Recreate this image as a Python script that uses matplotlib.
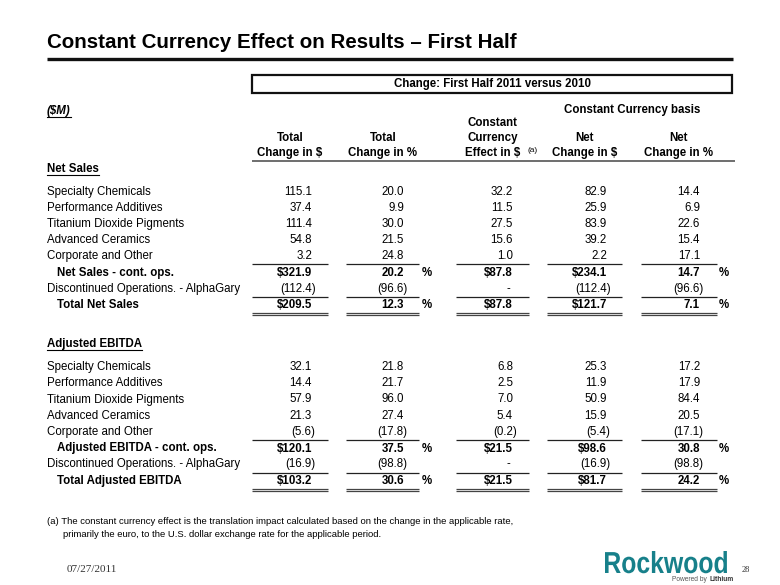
import matplotlib
matplotlib.use("Agg")
import matplotlib.pyplot as plt
from matplotlib.textpath import TextPath
from matplotlib.font_manager import FontProperties
from matplotlib.patches import PathPatch
from matplotlib.transforms import Affine2D

# segment rows
segments = ["Specialty Chemicals", "Performance Additives", "Titanium Dioxide Pigments",
            "Advanced Ceramics", "Corporate and Other"]

# Net sales columns: total $, total %, currency effect $, net $, net %
sales_total_usd = [115.1, 37.4, 111.4, 54.8, 3.2]
sales_total_pct = [20.0, 9.9, 30.0, 21.5, 24.8]
sales_fx_usd = [32.2, 11.5, 27.5, 15.6, 1.0]
sales_net_usd = [82.9, 25.9, 83.9, 39.2, 2.2]
sales_net_pct = [14.4, 6.9, 22.6, 15.4, 17.1]
sales_cont = [321.9, 20.2, 87.8, 234.1, 14.7]
sales_disc = [-112.4, -96.6, None, -112.4, -96.6]
sales_all = [209.5, 12.3, 87.8, 121.7, 7.1]

# Adjusted EBITDA columns
ebitda_total_usd = [32.1, 14.4, 57.9, 21.3, -5.6]
ebitda_total_pct = [21.8, 21.7, 96.0, 27.4, -17.8]
ebitda_fx_usd = [6.8, 2.5, 7.0, 5.4, -0.2]
ebitda_net_usd = [25.3, 11.9, 50.9, 15.9, -5.4]
ebitda_net_pct = [17.2, 17.9, 84.4, 20.5, -17.1]
ebitda_cont = [120.1, 37.5, 21.5, 98.6, 30.8]
ebitda_disc = [-16.9, -98.8, None, -16.9, -98.8]
ebitda_all = [103.2, 30.6, 21.5, 81.7, 24.2]

col_headers = [["", "Total", "Change in $"],
               ["", "Total", "Change in %"],
               ["Constant", "Currency", "Effect in $"],
               ["", "Net", "Change in $"],
               ["", "Net", "Change in %"]]
is_pct = [False, True, False, False, True]

# layout (pixels)
col_right = [312, 404, 513, 607, 700]
col_center = [290, 383, 493, 585, 678]
col_line = [(252, 328), (346, 419), (456, 529), (547, 622), (641, 717)]
pct_x = [None, 422, None, None, 719]

FONT = "Liberation Sans"
FS = 8.3

fig = plt.figure(figsize=(7.8, 5.85), dpi=100)
ax = fig.add_axes([0, 0, 1, 1])
ax.set_xlim(0, 780)
ax.set_ylim(585, 0)
ax.axis("off")
renderer = fig.canvas.get_renderer()


def txt(x, y, s, bold=False, ha="left", size=FS, **kw):
    return ax.text(x, y, s, ha=ha, va="center", fontsize=size, family=kw.pop("family", FONT),
                   fontweight="bold" if bold else "normal", **kw)


def underline_text(t, y, lw=0.8):
    bb = t.get_window_extent(renderer)
    x0, _ = ax.transData.inverted().transform((bb.x0, 0))
    x1, _ = ax.transData.inverted().transform((bb.x1, 0))
    ax.plot([x0, x1], [y, y], color="black", lw=lw)


def hline(x0, x1, y, lw=0.9, color="#222222"):
    ax.plot([x0, x1], [y, y], color=color, lw=lw, solid_capstyle="butt")


def fmt(v, col, dollar):
    if v is None:
        return "-"
    s = f"{abs(v):.1f}"
    if dollar and not is_pct[col]:
        s = "$" + s
    if v < 0:
        s = "(" + s + ")"
    return s


def row(y, label, vals, bold=False, indent=False, dollar=False, show_pct=False):
    txt(57 if indent else 47, y, label, bold=bold)
    for c, v in enumerate(vals):
        s = fmt(v, c, dollar)
        if v is None:
            txt(col_right[c] - 5, y, s, ha="center", bold=bold)
        elif v < 0:
            txt(col_right[c] + 3.5, y, s, ha="right", bold=bold)
        else:
            txt(col_right[c], y, s, ha="right", bold=bold)
        if show_pct and pct_x[c] is not None:
            txt(pct_x[c], y, "%", bold=True)


def col_lines(y, double=False):
    for x0, x1 in col_line:
        if double:
            hline(x0, x1, y - 1.4, lw=0.9, color="#444444")
            hline(x0, x1, y + 1.4, lw=0.9, color="#444444")
        else:
            hline(x0, x1, y, lw=0.9)


def squeezed_text(s, x0, x1, y_base, height, color, weight="bold"):
    # text drawn as a path, stretched to fit a box (condensed logo lettering)
    tp = TextPath((0, 0), s, size=1, prop=FontProperties(family=FONT, weight=weight))
    bb = tp.get_extents()
    tr = Affine2D().translate(-bb.x0, 0).scale((x1 - x0) / bb.width, -height / bb.y1).translate(x0, y_base)
    ax.add_patch(PathPatch(tr.transform_path(tp), facecolor=color, edgecolor="none"))


# title
txt(47, 43, "Constant Currency Effect on Results \u2013 First Half", bold=True, size=14.8)
hline(47, 733, 59, lw=2.4, color="#111111")

# boxed header
ax.add_patch(plt.Rectangle((252, 75), 480, 18, fill=False, lw=1.6, edgecolor="#111111"))
txt(492, 84.5, "Change: First Half 2011 versus 2010", bold=True, ha="center")

t = ax.text(47, 111, "($M)", ha="left", va="center", fontsize=FS, family=FONT,
            fontweight="bold", style="italic")
underline_text(t, 116.5)
txt(632, 110, "Constant Currency basis", bold=True, ha="center")

for c, lines in enumerate(col_headers):
    for k, s in enumerate(lines):
        if s:
            txt(col_center[c], 123 + 15 * k, s, bold=True, ha="center")
txt(528, 151, "(a)", size=6)
hline(252, 735, 161, lw=1.2, color="#555555")

# Net sales block
t = txt(47, 169, "Net Sales", bold=True)
underline_text(t, 175)
y0 = 192
step = 16.1
for i, name in enumerate(segments):
    vals = [sales_total_usd[i], sales_total_pct[i], sales_fx_usd[i], sales_net_usd[i], sales_net_pct[i]]
    row(y0 + i * step, name, vals)
col_lines(263.5)
row(273, "Net Sales - cont. ops.", sales_cont, bold=True, indent=True, dollar=True, show_pct=True)
row(289, "Discontinued Operations. - AlphaGary", sales_disc)
col_lines(297)
row(305, "Total Net Sales", sales_all, bold=True, indent=True, dollar=True, show_pct=True)
col_lines(314, double=True)

# Adjusted EBITDA block
t = txt(47, 344, "Adjusted EBITDA", bold=True)
underline_text(t, 350)
y0 = 367.3
for i, name in enumerate(segments):
    vals = [ebitda_total_usd[i], ebitda_total_pct[i], ebitda_fx_usd[i], ebitda_net_usd[i], ebitda_net_pct[i]]
    row(y0 + i * step, name, vals)
col_lines(440)
row(448.5, "Adjusted EBITDA - cont. ops.", ebitda_cont, bold=True, indent=True, dollar=True, show_pct=True)
row(464.5, "Discontinued Operations. - AlphaGary", ebitda_disc)
col_lines(472.5)
row(481, "Total Adjusted EBITDA", ebitda_all, bold=True, indent=True, dollar=True, show_pct=True)
col_lines(490, double=True)

# footnote
txt(47, 522, "(a) The constant currency effect is the translation impact calculated based on the change in the applicable rate,", size=6.8)
txt(63, 534.5, "primarily the euro, to the U.S. dollar exchange rate for the applicable period.", size=6.8)

# footer
txt(67, 570, "07/27/2011", size=8, family="Liberation Serif", color="#333333")
txt(742, 570, "28", size=6, family="Liberation Serif", color="#333333")
squeezed_text("Rockwood", 605, 727, 573, 22, "#17808a")
ax.text(709, 579.5, "Powered by ", ha="right", va="center", fontsize=4.8, family=FONT, color="#555555")
ax.text(709, 579.5, "Lithium", ha="left", va="center", fontsize=4.8, family=FONT,
        fontweight="bold", color="#333333")

fig.savefig("out.png", dpi=100)
